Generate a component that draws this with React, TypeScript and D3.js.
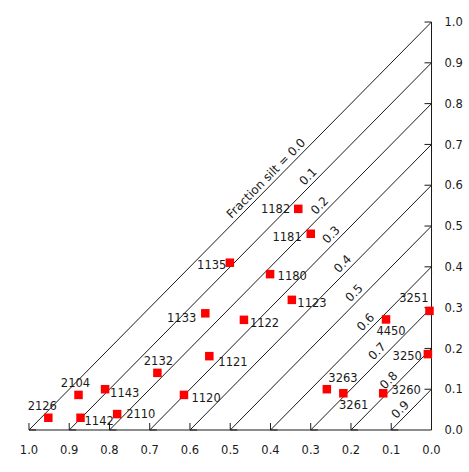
import React from "react";
import * as d3 from "d3";

// Sample fractions: sand along the bottom (reversed), clay up the right side
const sampleIds = [
  "2126", "2104", "1142", "1143", "2110", "2132", "1120", "1133", "1121", "1135",
  "1182", "1181", "1180", "1123", "1122", "4450", "3251", "3250", "3263", "3261", "3260",
];
const sandFrac = [
  0.952, 0.877, 0.872, 0.811, 0.781, 0.681, 0.615, 0.562, 0.552, 0.501,
  0.331, 0.3, 0.401, 0.347, 0.466, 0.113, 0.005, 0.009, 0.26, 0.219, 0.12,
];
const clayFrac = [
  0.03, 0.086, 0.03, 0.1, 0.039, 0.14, 0.086, 0.286, 0.181, 0.41,
  0.542, 0.481, 0.382, 0.319, 0.27, 0.271, 0.292, 0.186, 0.1, 0.09, 0.09,
];
const siltLevels = [0, 0.1, 0.2, 0.3, 0.4, 0.5, 0.6, 0.7, 0.8, 0.9];
const axisTicks = [0, 0.1, 0.2, 0.3, 0.4, 0.5, 0.6, 0.7, 0.8, 0.9, 1.0];

// where each sample's id sits relative to its square
const labelPlace: Record<string, { anchor: string; dx: number; dy: number }> = {
  "2126": { anchor: "middle", dx: -6, dy: -8 },
  "2104": { anchor: "middle", dx: -3, dy: -8 },
  "1142": { anchor: "start", dx: 4, dy: 7 },
  "1143": { anchor: "start", dx: 5, dy: 8 },
  "2110": { anchor: "start", dx: 9, dy: 4 },
  "2132": { anchor: "middle", dx: 1, dy: -8 },
  "1120": { anchor: "start", dx: 7.5, dy: 7 },
  "1133": { anchor: "end", dx: -9, dy: 9 },
  "1121": { anchor: "start", dx: 9, dy: 10 },
  "1135": { anchor: "end", dx: -3.5, dy: 6.5 },
  "1182": { anchor: "end", dx: -8, dy: 4.3 },
  "1181": { anchor: "end", dx: -9, dy: 7.3 },
  "1180": { anchor: "start", dx: 7.5, dy: 5.7 },
  "1123": { anchor: "start", dx: 5.5, dy: 7.6 },
  "1122": { anchor: "start", dx: 6, dy: 7 },
  "4450": { anchor: "middle", dx: 5, dy: 16 },
  "3251": { anchor: "end", dx: -1, dy: -8.4 },
  "3250": { anchor: "end", dx: -6, dy: 6 },
  "3263": { anchor: "start", dx: 1.5, dy: -7.4 },
  "3261": { anchor: "start", dx: -4.3, dy: 16 },
  "3260": { anchor: "start", dx: 8.4, dy: 0.5 },
};

const W = 469;
const H = 472;
const font = "'DejaVu Sans', Arial, Helvetica, sans-serif";

const x = d3.scaleLinear().domain([1, 0]).range([29, 431.5]);
const y = d3.scaleLinear().domain([0, 1]).range([430, 22]);

const angle = (Math.atan2(y(0) - y(1), x(0) - x(1)) * 180) / Math.PI;

// open arrowhead at p, pointing away from q
const arrowHead = (p: [number, number], q: [number, number], len = 7) => {
  const a = Math.atan2(p[1] - q[1], p[0] - q[0]);
  const w1 = [p[0] - len * Math.cos(a - Math.PI / 4), p[1] - len * Math.sin(a - Math.PI / 4)];
  const w2 = [p[0] - len * Math.cos(a + Math.PI / 4), p[1] - len * Math.sin(a + Math.PI / 4)];
  return `M${w1[0]},${w1[1]}L${p[0]},${p[1]}L${w2[0]},${w2[1]}`;
};

const App = () => {
  const ink = "#1a1a1a";
  return (
    <svg
      width={W}
      height={H}
      style={{ position: "absolute", left: 0, top: 0, background: "#fff" }}
      fontFamily={font}
    >
      {/* axes */}
      <line x1={x(1)} x2={x(0)} y1={y(0)} y2={y(0)} stroke={ink} strokeWidth={1} />
      <line x1={x(0)} x2={x(0)} y1={y(0)} y2={y(1)} stroke={ink} strokeWidth={1} />

      {axisTicks.map((t) => (
        <text key={"bx" + t} x={x(t)} y={y(0) + 24} textAnchor="middle" fontSize={11.5} fill={ink}>
          {t.toFixed(1)}
        </text>
      ))}
      {axisTicks.map((t) => (
        <text key={"ry" + t} x={x(0) + 13} y={y(t) + 4.2} textAnchor="start" fontSize={11.5} fill={ink}>
          {t.toFixed(1)}
        </text>
      ))}

      {/* constant-silt lines: sand + clay = 1 - silt */}
      {siltLevels.map((s) => {
        const k = 1 - s;
        const p0: [number, number] = [x(k), y(0)];
        const p1: [number, number] = [x(0), y(k)];
        return (
          <g key={"silt" + s}>
            <line x1={p0[0]} y1={p0[1]} x2={p1[0]} y2={p1[1]} stroke={ink} strokeWidth={1} />
            <path d={arrowHead(p0, p1)} fill="none" stroke={ink} strokeWidth={1} />
            <path d={arrowHead(p1, p0)} fill="none" stroke={ink} strokeWidth={1} />
          </g>
        );
      })}

      {siltLevels.map((s) => {
        const k = 1 - s;
        const lx = 0.035 + 0.286 * k;
        const ly = k - lx;
        const first = s === 0;
        return (
          <text
            key={"lab" + s}
            transform={`translate(${x(lx)},${y(ly)}) rotate(${-angle})`}
            x={first ? 9.5 : 0}
            y={-4}
            textAnchor={first ? "end" : "middle"}
            fontSize={12}
            fill={ink}
          >
            {first ? "Fraction silt = 0.0" : s.toFixed(1)}
          </text>
        );
      })}

      {/* samples */}
      {sampleIds.map((id, i) => (
        <rect
          key={"pt" + id}
          x={x(sandFrac[i]) - 4.25}
          y={y(clayFrac[i]) - 4.25}
          width={8.5}
          height={8.5}
          fill="#ff0000"
        />
      ))}
      {sampleIds.map((id, i) => {
        const p = labelPlace[id];
        return (
          <text
            key={"id" + id}
            x={x(sandFrac[i]) + p.dx}
            y={y(clayFrac[i]) + p.dy}
            textAnchor={p.anchor}
            fontSize={11.5}
            fill={ink}
          >
            {id}
          </text>
        );
      })}
    </svg>
  );
};

export default App;
